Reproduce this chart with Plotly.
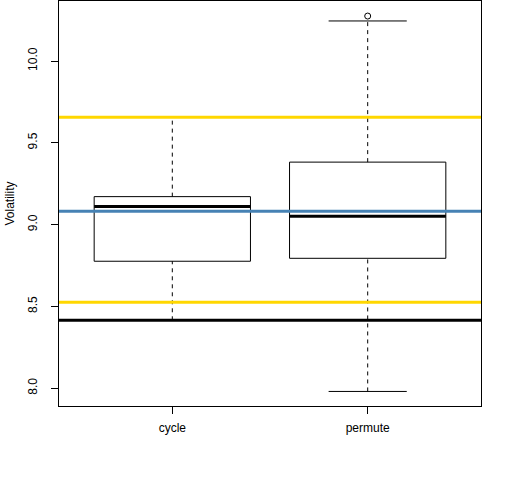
import plotly.graph_objects as go

# boxplot stats
groups = ["cycle", "permute"]
q1 = [8.776, 8.794]
medians = [9.110, 9.051]
q3 = [9.171, 9.382]
lower_whisker = [8.415, 7.980]
upper_whisker = [9.657, 10.245]
outlier_group = [2]
outlier_y = [10.275]

# horizontal reference lines
ref_values = [9.657, 8.525, 9.082, 8.415]
ref_colors = ["#FFD700", "#FFD700", "#4682B4", "#000000"]

y_ticks = [8.0, 8.5, 9.0, 9.5, 10.0]

box_w = 0.8
cap_w = 0.4

fig = go.Figure()

for i, g in enumerate(groups):
    x = i + 1
    l, r = x - box_w / 2, x + box_w / 2
    # box outline
    fig.add_trace(go.Scatter(x=[l, r, r, l, l], y=[q1[i], q1[i], q3[i], q3[i], q1[i]],
                             mode="lines", line=dict(color="black", width=1),
                             hoverinfo="skip", showlegend=False))
    # median
    fig.add_trace(go.Scatter(x=[l, r], y=[medians[i], medians[i]], mode="lines",
                             line=dict(color="black", width=3), hoverinfo="skip", showlegend=False))
    # whiskers
    for lo, hi in [(q3[i], upper_whisker[i]), (lower_whisker[i], q1[i])]:
        fig.add_trace(go.Scatter(x=[x, x], y=[lo, hi], mode="lines",
                                 line=dict(color="black", width=1, dash="4px,4px"),
                                 hoverinfo="skip", showlegend=False))
    # caps
    for yv in [upper_whisker[i], lower_whisker[i]]:
        fig.add_trace(go.Scatter(x=[x - cap_w / 2, x + cap_w / 2], y=[yv, yv], mode="lines",
                                 line=dict(color="black", width=1), hoverinfo="skip", showlegend=False))

fig.add_trace(go.Scatter(x=outlier_group, y=outlier_y, mode="markers",
                         marker=dict(symbol="circle-open", size=6, color="black", line=dict(width=1)),
                         hoverinfo="skip", showlegend=False))

for v, c in zip(ref_values, ref_colors):
    fig.add_shape(type="line", xref="paper", yref="y", x0=0, x1=1, y0=v, y1=v,
                  line=dict(color=c, width=3), layer="above")

fig.add_annotation(text="Volatility", xref="paper", yref="paper", x=0, y=0.5,
                   xanchor="center", yanchor="middle", xshift=-50, textangle=-90,
                   showarrow=False, font=dict(size=12, color="black"))

fig.update_layout(
    width=512, height=480,
    margin=dict(l=59, r=31, t=1, b=74, autoexpand=False),
    paper_bgcolor="white", plot_bgcolor="white",
    font=dict(family="Liberation Sans, Arial", size=12, color="black"),
)
fig.update_xaxes(range=[0.42, 2.58], tickvals=[1, 2], ticktext=groups,
                 showgrid=False, zeroline=False, showline=True, mirror=True,
                 linecolor="black", linewidth=1, ticks="outside", ticklen=7,
                 tickcolor="black", automargin=False, ticklabelstandoff=4)
fig.update_yaxes(range=[7.891, 10.367], tickvals=y_ticks,
                 ticktext=[f"{t:.1f}" for t in y_ticks], tickangle=-90,
                 showgrid=False, zeroline=False, showline=True, mirror=True,
                 linecolor="black", linewidth=1, ticks="outside", ticklen=7,
                 tickcolor="black", automargin=False, ticklabelstandoff=9)

# drop the default page margin so the figure sits at the window corner
fig.write_html("out.html", config={"displayModeBar": False},
               post_script="document.body.style.margin='0';")
